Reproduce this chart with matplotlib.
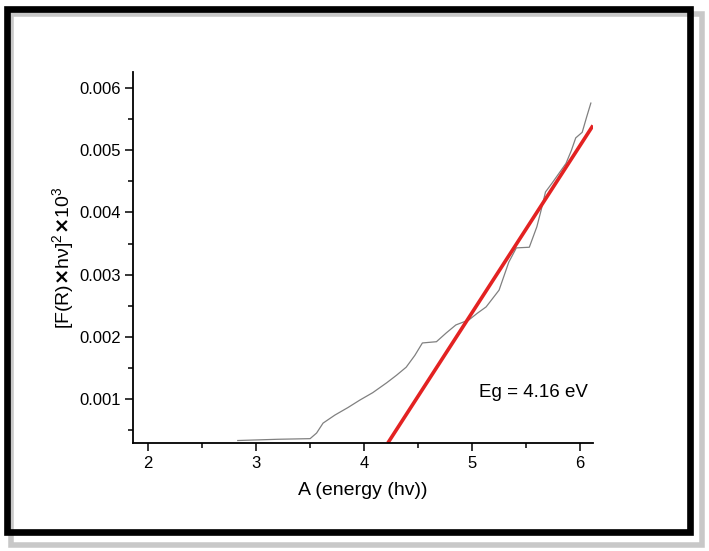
import numpy as np
import matplotlib
matplotlib.use('Agg')
import matplotlib.pyplot as plt
from matplotlib.patches import Rectangle
from matplotlib.ticker import MultipleLocator

plt.rcParams['font.family'] = ['Liberation Sans', 'DejaVu Sans']
plt.rcParams['mathtext.fontset'] = 'custom'
plt.rcParams['mathtext.rm'] = 'Liberation Sans'
plt.rcParams['mathtext.bf'] = 'DejaVu Sans:bold'

energy = [2.83, 3.20, 3.50, 3.56, 3.62, 3.73, 3.85, 3.96, 4.08, 4.21, 4.30, 4.39,
          4.47, 4.54, 4.67, 4.76, 4.85, 4.97, 5.05, 5.13, 5.25, 5.34, 5.41, 5.53,
          5.60, 5.64, 5.68, 5.74, 5.87, 5.92, 5.96, 6.02, 6.06, 6.10]
signal = [0.00033, 0.00035, 0.00036, 0.00045, 0.00061, 0.00074, 0.00086, 0.00098, 0.00110,
          0.00126, 0.00138, 0.00151, 0.00170, 0.00190, 0.00192, 0.00206, 0.00219, 0.00227,
          0.00238, 0.00248, 0.00275, 0.00320, 0.00343, 0.00344, 0.00377, 0.00404, 0.00433,
          0.00447, 0.00479, 0.00500, 0.00520, 0.00529, 0.00553, 0.00576]

# linear fit (Tauc extrapolation)
fit_x = [4.22, 6.12]
fit_y = [0.00029, 0.00540]

fig = plt.figure(figsize=(7.09, 5.51), dpi=100)

# frame with shadow
fig.patches.append(Rectangle((0.016, 0.010), 0.974, 0.964, transform=fig.transFigure,
                             facecolor='none', edgecolor='#c8c8c8', lw=4, zorder=0))
fig.patches.append(Rectangle((0.0099, 0.0345), 0.9635, 0.9500, transform=fig.transFigure,
                             facecolor='none', edgecolor='black', lw=4.8, zorder=1))

ax = fig.add_axes([0.1876, 0.196, 0.6488, 0.6733])
ax.plot(energy, signal, color='#808080', lw=0.9)
ax.plot(fit_x, fit_y, color='#e32222', lw=2.6, solid_capstyle='butt')

ax.set_xlim(1.86, 6.12)
ax.set_ylim(0.00029, 0.00626)
ax.xaxis.set_major_locator(MultipleLocator(1))
ax.xaxis.set_minor_locator(MultipleLocator(0.5))
ax.yaxis.set_major_locator(MultipleLocator(0.001))
ax.yaxis.set_minor_locator(MultipleLocator(0.0005))
ax.tick_params(which='major', direction='out', length=6, width=1.1, labelsize=12, pad=3)
ax.tick_params(which='minor', direction='out', length=3.5, width=1.1)
ax.set_yticks([0.001, 0.002, 0.003, 0.004, 0.005, 0.006])
ax.set_yticklabels(['0.001', '0.002', '0.003', '0.004', '0.005', '0.006'])

for s in ['top', 'right']:
    ax.spines[s].set_visible(False)
for s in ['left', 'bottom']:
    ax.spines[s].set_linewidth(1.3)

ax.set_xlabel('A (energy (hv))', fontsize=14, labelpad=8)
ax.set_ylabel('[F(R)$\\mathbf{\\times}$h\u03bd]$^2$$\\mathbf{\\times}$10$^3$', fontsize=14, labelpad=1)

ax.text(5.57, 0.00110, 'Eg = 4.16 eV', fontsize=13.5, ha='center', va='center')

fig.savefig('out.png', dpi=100)
